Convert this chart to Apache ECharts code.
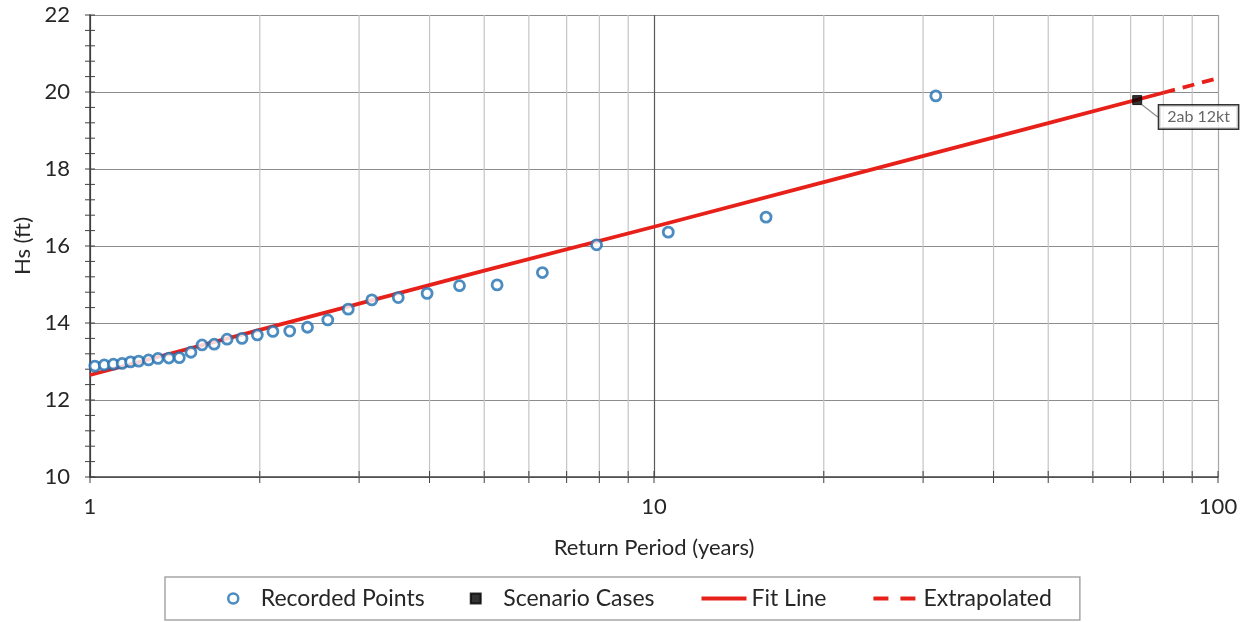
<!DOCTYPE html>
<html>
<head>
<meta charset="utf-8">
<script src="https://cdn.jsdelivr.net/npm/echarts@6/dist/echarts.min.js"></script>
<style>
html,body{margin:0;padding:0;background:#fff;}
#chart{width:1246px;height:622px;}
</style>
</head>
<body>
<div id="chart"></div>
<script>
// ---- data ----
const recordedT = [1.02, 1.06, 1.10, 1.14, 1.18, 1.22, 1.27, 1.32, 1.38, 1.44, 1.51, 1.58, 1.66, 1.75, 1.86, 1.98, 2.11, 2.26, 2.43, 2.64, 2.87, 3.16, 3.52, 3.96, 4.52, 5.27, 6.34, 7.91, 10.6, 15.8, 31.6];
const recordedHs = [12.88, 12.91, 12.93, 12.95, 12.99, 13.01, 13.04, 13.08, 13.09, 13.10, 13.24, 13.43, 13.45, 13.58, 13.60, 13.69, 13.78, 13.79, 13.89, 14.08, 14.36, 14.60, 14.66, 14.77, 14.97, 14.99, 15.31, 16.03, 16.36, 16.75, 19.90];
const scenarioT = [71.9];
const scenarioHs = [19.79];
const scenarioNames = ['2ab 12kt'];
const fitT = [1, 2, 5, 10, 20, 50, 80];
const fitHs = [12.65, 13.82, 15.36, 16.50, 17.66, 19.19, 19.98];
const extT = [80, 100];
const extHs = [19.98, 20.36];
const xMinorTicks = [2, 3, 4, 5, 6, 7, 8, 9, 20, 30, 40, 50, 60, 70, 80, 90];
const xMajorTicks = [1, 10, 100];
const yTickValues = [10, 10.4, 10.8, 11.2, 11.6, 12, 12.4, 12.8, 13.2, 13.6, 14, 14.4, 14.8, 15.2, 15.6, 16, 16.4, 16.8, 17.2, 17.6, 18, 18.4, 18.8, 19.2, 19.6, 20, 20.4, 20.8, 21.2, 21.6, 22];

const FONT = 'Lato';
const FS = 22;
const TXT = '#262626';
const RED = '#e8201a';
const zip = (a, b) => a.map((v, i) => [v, b[i]]);

const xTickData = xMinorTicks.map(v => [v, 0]).concat(xMajorTicks.map(v => [v, 1]));
const yTickData = yTickValues.map(v => [1, v]);
const hidden = {color: 'rgba(0,0,0,0)', borderColor: 'rgba(0,0,0,0)', borderWidth: 0};

const chart = echarts.init(document.getElementById('chart'), null, {renderer: 'canvas'});
chart.setOption({
  animation: false,
  backgroundColor: '#fff',
  textStyle: {fontFamily: FONT},
  grid: {left: 90, right: 28, top: 15, bottom: 145, containLabel: false},
  xAxis: {
    type: 'log', logBase: 10, min: 1, max: 100,
    name: 'Return Period (years)', nameLocation: 'middle', nameGap: 60,
    nameTextStyle: {fontFamily: FONT, fontSize: FS, color: TXT},
    axisLine: {show: true, lineStyle: {color: '#404040', width: 1.5}},
    axisTick: {show: false},
    axisLabel: {fontFamily: FONT, fontSize: FS, color: TXT, margin: 19},
    splitLine: {show: true, lineStyle: {color: ['#404040', '#595959', '#a6a6a6'], width: 1.2}}
  },
  yAxis: {
    type: 'value', min: 10, max: 22, interval: 2,
    name: 'Hs (ft)', nameLocation: 'middle', nameGap: 52, nameRotate: 90,
    nameTextStyle: {fontFamily: FONT, fontSize: FS, color: TXT},
    axisLine: {show: true, lineStyle: {color: '#404040', width: 1.5}},
    axisTick: {show: false},
    axisLabel: {fontFamily: FONT, fontSize: FS, color: TXT, margin: 20},
    splitLine: {show: true, lineStyle: {color: '#8c8c8c', width: 1.2}}
  },
  legend: {
    bottom: 2, left: 165,
    padding: [10, 28, 10, 62],
    borderColor: '#a6a6a6', borderWidth: 1.5,
    itemWidth: 45, itemHeight: 10, itemGap: 45,
    textStyle: {fontFamily: FONT, fontSize: 23, color: TXT},
    data: [
      {name: 'Recorded Points', icon: 'circle', itemStyle: {color: '#fff', borderColor: '#1f6fb0', borderWidth: 2.5}},
      {name: 'Scenario Cases', icon: 'path://M0 0H10V10H0Z'},
      {name: 'Fit Line', itemStyle: hidden, lineStyle: {color: RED, width: 4}},
      {name: 'Extrapolated', itemStyle: hidden, lineStyle: {color: RED, width: 4, type: [15, 12]}}
    ]
  },
  series: [
    {
      name: 'xTicks', type: 'custom', silent: true, z: 1, clip: false,
      data: xTickData,
      renderItem: function (params, api) {
        const v = api.value(0), major = api.value(1);
        const b = api.coord([v, 10]);
        const t = api.coord([v, 22]);
        const children = [];
        if (!major) {
          children.push({type: 'line', shape: {x1: b[0], y1: t[1], x2: b[0], y2: b[1]}, style: {stroke: '#c4c4c4', lineWidth: 1.2}});
        }
        children.push({type: 'line', shape: {x1: b[0], y1: b[1] - 6, x2: b[0], y2: b[1] + 6}, style: {stroke: '#404040', lineWidth: 1}});
        return {type: 'group', children: children};
      }
    },
    {
      name: 'yTicks', type: 'custom', silent: true, z: 1, clip: false,
      data: yTickData,
      renderItem: function (params, api) {
        const p = api.coord([1, api.value(1)]);
        return {type: 'line', shape: {x1: p[0] - 5, y1: p[1], x2: p[0] + 5, y2: p[1]}, style: {stroke: '#404040', lineWidth: 1}};
      }
    },
    {
      name: 'Fit Line', type: 'line', data: zip(fitT, fitHs),
      symbol: 'none', showSymbol: false, z: 3,
      lineStyle: {color: RED, width: 3.8},
      itemStyle: {color: RED}
    },
    {
      name: 'Extrapolated', type: 'line', data: zip(extT, extHs),
      symbol: 'none', showSymbol: false, z: 3,
      lineStyle: {color: RED, width: 3.8, type: [12, 8]},
      itemStyle: {color: RED}
    },
    {
      name: 'Recorded Points', type: 'scatter', data: zip(recordedT, recordedHs),
      symbol: 'circle', symbolSize: 10, z: 4,
      itemStyle: {color: '#ffffff', borderColor: '#1f6fb0', borderWidth: 2.8}
    },
    {
      name: 'Scenario Cases', type: 'scatter',
      data: scenarioT.map((t, i) => ({value: [t, scenarioHs[i]], name: scenarioNames[i]})),
      symbol: 'rect', symbolSize: 9, z: 5, symbolKeepAspect: true,
      itemStyle: {color: '#000000', borderColor: '#000', borderWidth: 1},
      label: {
        show: true, position: 'right', formatter: '{b}',
        fontFamily: FONT, fontSize: 16, color: '#404040',
        backgroundColor: '#ffffff', borderColor: '#000000', borderWidth: 1.5,
        padding: [4, 8, 3, 8]
      },
      labelLayout: {dx: 12, dy: 17},
      labelLine: {show: true, lineStyle: {color: '#8c8c8c', width: 1.2}}
    }
  ]
});
</script>
</body>
</html>
